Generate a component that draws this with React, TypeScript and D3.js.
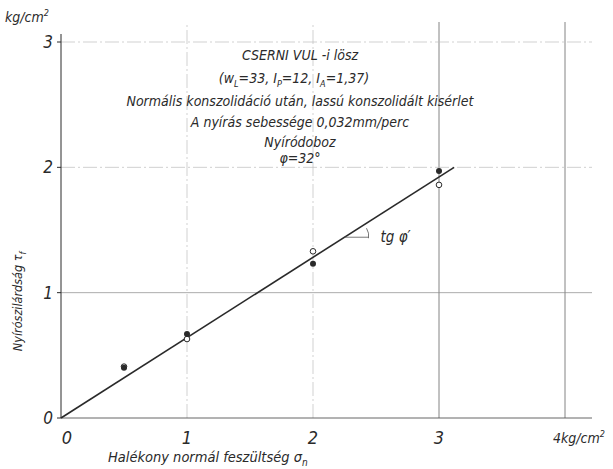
import { useEffect, useRef } from "react";
import * as d3 from "d3";

// measured shear strength (kg/cm²) at normal stress σn
const sigmaN = [0.5, 1, 2, 3];
const tauFilled = [0.4, 0.67, 1.23, 1.97];
const tauOpen = [0.41, 0.63, 1.33, 1.86];
// fitted failure line
const fitLine: [number, number][] = [
  [0, 0],
  [3.12, 2.0],
];
const xTicks = [0, 1, 2, 3];
const yTicks = [0, 1, 2, 3];
const titleLines = [
  "CSERNI VUL -i lösz",
  "",
  "Normális konszolidáció után, lassú konszolidált kisérlet",
  "A nyírás sebessége 0,032mm/perc",
  "Nyíródoboz",
  "φ=32°",
];

const W = 613;
const H = 469;
const FONT = "'DejaVu Sans Condensed', 'Liberation Sans Narrow', 'DejaVu Sans', sans-serif";
const INK = "#2a2a2a";

const App = () => {
  const svgRef = useRef<SVGSVGElement | null>(null);

  useEffect(() => {
    if (!svgRef.current) return;
    const svg = d3.select(svgRef.current);
    svg.selectAll("*").remove();

    const x = d3.scaleLinear().domain([0, 4]).range([61, 565]);
    const y = d3.scaleLinear().domain([0, 3]).range([418, 42]);

    const g = svg.append("g");

    // grid
    [1, 2, 3, 4].forEach((v) => {
      g.append("line")
        .attr("x1", x(v))
        .attr("x2", x(v))
        .attr("y1", y(0))
        .attr("y2", 22)
        .attr("stroke", v >= 3 ? "#777" : "#bdbdbd")
        .attr("stroke-width", v >= 3 ? 0.9 : 0.7)
        .attr("stroke-dasharray", v >= 3 ? null : "14 3 2 3");
    });
    [1, 2, 3].forEach((v) => {
      g.append("line")
        .attr("x1", x(0))
        .attr("x2", 592)
        .attr("y1", y(v))
        .attr("y2", y(v))
        .attr("stroke", v === 1 ? "#888" : "#bdbdbd")
        .attr("stroke-width", 0.7)
        .attr("stroke-dasharray", v === 1 ? null : "14 3 2 3");
    });

    // axes
    g.append("line")
      .attr("x1", x(0))
      .attr("x2", x(0))
      .attr("y1", y(0))
      .attr("y2", 34)
      .attr("stroke", INK)
      .attr("stroke-width", 1);
    g.append("line")
      .attr("x1", x(0))
      .attr("x2", 592)
      .attr("y1", y(0))
      .attr("y2", y(0))
      .attr("stroke", "#555")
      .attr("stroke-width", 0.9);

    const txt = (sel: d3.Selection<SVGGElement, unknown, null, undefined>) =>
      sel
        .append("text")
        .attr("font-family", FONT)
        .attr("font-style", "italic")
        .attr("fill", INK);

    // tick labels
    yTicks.forEach((v) => {
      txt(g)
        .attr("x", 53)
        .attr("y", y(v) + 6)
        .attr("text-anchor", "end")
        .attr("font-size", 17)
        .text(String(v));
      g.append("line")
        .attr("x1", x(0) - 4)
        .attr("x2", x(0))
        .attr("y1", y(v))
        .attr("y2", y(v))
        .attr("stroke", INK);
    });
    xTicks.forEach((v) => {
      txt(g)
        .attr("x", x(v) + (v === 0 ? 6 : 0))
        .attr("y", y(0) + 26)
        .attr("text-anchor", "middle")
        .attr("font-size", 18)
        .text(String(v));
    });
    const t4 = txt(g).attr("x", x(4) - 12).attr("y", y(0) + 25).attr("font-size", 14);
    t4.append("tspan").text("4kg/cm");
    t4.append("tspan").attr("font-size", 9).attr("dy", -6).text("2");

    const unitY = txt(g).attr("x", 5).attr("y", 22).attr("font-size", 14);
    unitY.append("tspan").text("kg/cm");
    unitY.append("tspan").attr("font-size", 9).attr("dy", -6).text("2");

    // axis titles
    const xt = txt(g).attr("x", 108).attr("y", 462).attr("font-size", 14.5);
    xt.append("tspan").text("Halékony normál feszültség  σ");
    xt.append("tspan").attr("font-size", 10).attr("dy", 4).text("n");

    const yt = txt(g)
      .attr("transform", `translate(22,${y(0.93)}) rotate(-90)`)
      .attr("text-anchor", "middle")
      .attr("font-size", 12.5);
    yt.append("tspan").text("Nyírószilárdság  τ");
    yt.append("tspan").attr("font-size", 9).attr("dy", 4).text("f");

    // title block
    const cx = 300;
    const rows = [55, 78, 101, 122, 142, 158];
    titleLines.forEach((s, i) => {
      if (!s) return;
      txt(g)
        .attr("x", cx)
        .attr("y", rows[i] + 5)
        .attr("text-anchor", "middle")
        .attr("font-size", 14)
        .text(s);
    });
    const p = txt(g).attr("x", cx - 6).attr("y", rows[1] + 5).attr("text-anchor", "middle").attr("font-size", 14);
    p.append("tspan").text("(w");
    p.append("tspan").attr("font-size", 9).attr("dy", 4).text("L");
    p.append("tspan").attr("dy", -4).text("=33,  I");
    p.append("tspan").attr("font-size", 9).attr("dy", 4).text("P");
    p.append("tspan").attr("dy", -4).text("=12,  I");
    p.append("tspan").attr("font-size", 9).attr("dy", 4).text("A");
    p.append("tspan").attr("dy", -4).text("=1,37)");

    // fitted line
    const line = d3
      .line<[number, number]>()
      .x((d) => x(d[0]))
      .y((d) => y(d[1]));
    g.append("path")
      .datum(fitLine)
      .attr("fill", "none")
      .attr("stroke", INK)
      .attr("stroke-width", 1.6)
      .attr("d", line);

    // slope annotation
    const slope = fitLine[1][1] / fitLine[1][0];
    const ax = x(2.25);
    const ay = y(slope * 2.25);
    g.append("line")
      .attr("x1", ax)
      .attr("x2", ax + 24)
      .attr("y1", ay)
      .attr("y2", ay)
      .attr("stroke", "#555")
      .attr("stroke-width", 0.8);
    g.append("path")
      .attr("d", `M${ax + 22},${ay - 9} Q${ax + 25},${ay - 4} ${ax + 24},${ay + 1}`)
      .attr("fill", "none")
      .attr("stroke", "#555")
      .attr("stroke-width", 0.8);
    txt(g).attr("x", ax + 36).attr("y", ay + 5).attr("font-size", 15).text("tg φ′");

    // points
    g.selectAll(".open")
      .data(sigmaN)
      .join("circle")
      .attr("cx", (d) => x(d))
      .attr("cy", (_d, i) => y(tauOpen[i]))
      .attr("r", 2.8)
      .attr("fill", "#fff")
      .attr("stroke", INK)
      .attr("stroke-width", 1);
    g.selectAll(".filled")
      .data(sigmaN)
      .join("circle")
      .attr("cx", (d) => x(d))
      .attr("cy", (_d, i) => y(tauFilled[i]))
      .attr("r", 3)
      .attr("fill", INK);
  }, []);

  return (
    <svg
      ref={svgRef}
      width={W}
      height={H}
      viewBox={`0 0 ${W} ${H}`}
      style={{ position: "absolute", left: 0, top: 0, background: "#fff" }}
    />
  );
};

export default App;
